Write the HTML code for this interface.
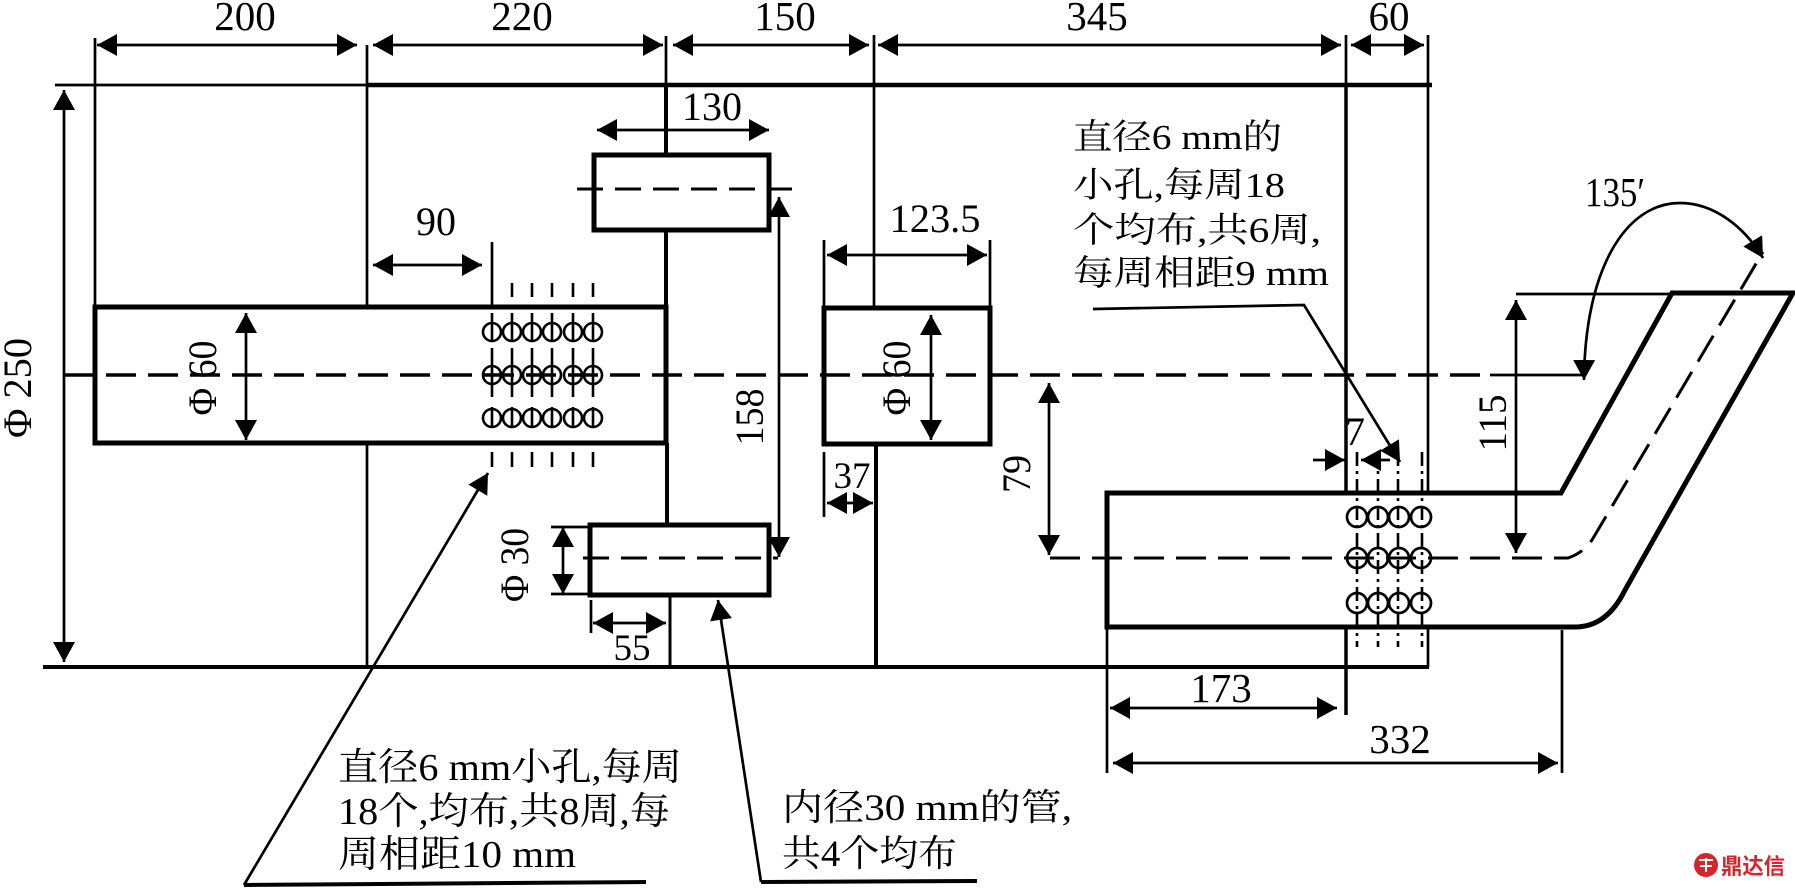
<!DOCTYPE html>
<html><head><meta charset="utf-8"><style>
html,body{margin:0;padding:0;background:#fff;}
svg{display:block;}
text{font-family:"Liberation Serif","Noto Serif CJK SC",serif;fill:#000;}
</style></head><body>
<svg width="1795" height="888" viewBox="0 0 1795 888" xmlns="http://www.w3.org/2000/svg">
<defs>
<marker id="a" viewBox="0 0 20 22" refX="20" refY="11" markerWidth="20" markerHeight="22" markerUnits="userSpaceOnUse" orient="auto-start-reverse"><path d="M0,0L20,11L0,22Z" fill="#000"/></marker>
</defs>
<rect width="1795" height="888" fill="#fff"/>

<g stroke="#000" fill="none" stroke-width="2.7">
<path d="M95,38V307"/>
<path d="M367,45V307M367,443V667"/>
<path d="M666,36V85"/>
<path d="M874,35V308"/>
<path d="M1346,35V85"/>
<path d="M1428,35V667"/>
<path d="M492,242V307"/>
<path d="M824,240V308M990,240V308"/>
<path d="M824,452V517"/>
<path d="M551,527H591M551,594H591"/>
<path d="M591,600V633"/>
<path d="M1107,627V773"/>
<path d="M1562,630V773"/>
<path d="M1516,294H1672"/>
<path d="M1490,375H1584"/>
<path d="M55,85H367"/>
</g>

<g stroke="#000" fill="none">
<path d="M367,85H1432" stroke-width="4.5"/>
<path d="M43,667H1429" stroke-width="4"/>
<path d="M666,85V155M666,230V307" stroke-width="4"/>
<path d="M667,443V525" stroke-width="4"/>
<path d="M670,595V667" stroke-width="3"/>
<path d="M876,444V667" stroke-width="4"/>
<path d="M1346,85V715" stroke-width="3.5"/>
</g>

<path d="M64,375H1490" stroke="#000" stroke-width="3.5" stroke-dasharray="30 12" fill="none"/>
<path d="M577,189H792" stroke="#000" stroke-width="3" stroke-dasharray="26 12" fill="none"/>
<path d="M583,558H778" stroke="#000" stroke-width="3" stroke-dasharray="26 12" fill="none"/>

<g stroke="#000" fill="none" stroke-width="5">
<rect x="95" y="307" width="571" height="136"/>
<rect x="594" y="155" width="175" height="75"/>
<rect x="824" y="308" width="166" height="136"/>
<rect x="590" y="525" width="179" height="70"/>
</g>

<path d="M1107,493L1561,493L1672,293L1793,293L1625,590Q1607,627 1575,627L1107,627Z" fill="#fff" stroke="#000" stroke-width="5" stroke-linejoin="miter"/>
<path d="M1050,558H1568Q1583,553 1592,540L1763,252" stroke="#000" stroke-width="3" stroke-dasharray="30 12" fill="none"/>

<g stroke="#000" fill="none" stroke-width="2.6">
<path d="M492,313V342M492,348V397M492,407V428M512,313V342M512,348V397M512,407V428M532,313V342M532,348V397M532,407V428M552,313V342M552,348V397M552,407V428M573,313V342M573,348V397M573,407V428M593,313V342M593,348V397M593,407V428"/>
<path d="M512,283V297M532,283V297M552,283V297M573,283V297M593,283V297"/>
<path d="M492,452V467M512,452V467M532,452V467M552,452V467M573,452V467M593,452V467"/>
<circle cx="492" cy="332" r="9"/><circle cx="512" cy="332" r="9"/><circle cx="532" cy="332" r="9"/><circle cx="552" cy="332" r="9"/><circle cx="573" cy="332" r="9"/><circle cx="593" cy="332" r="9"/>
<circle cx="492" cy="375" r="9"/><circle cx="512" cy="375" r="9"/><circle cx="532" cy="375" r="9"/><circle cx="552" cy="375" r="9"/><circle cx="573" cy="375" r="9"/><circle cx="593" cy="375" r="9"/>
<circle cx="492" cy="418" r="9"/><circle cx="512" cy="418" r="9"/><circle cx="532" cy="418" r="9"/><circle cx="552" cy="418" r="9"/><circle cx="573" cy="418" r="9"/><circle cx="593" cy="418" r="9"/>
</g>

<g stroke="#000" fill="none" stroke-width="2.7">
<path d="M1357,452V647M1378,452V647M1398,452V647M1422,452V647" stroke-dasharray="14 5 3 5" stroke-width="2.6"/>
<circle cx="1357" cy="517" r="10"/><circle cx="1378" cy="517" r="10"/><circle cx="1399" cy="517" r="10"/><circle cx="1421" cy="517" r="10"/>
<circle cx="1357" cy="558" r="10"/><circle cx="1378" cy="558" r="10"/><circle cx="1399" cy="558" r="10"/><circle cx="1421" cy="558" r="10"/>
<circle cx="1357" cy="603" r="10"/><circle cx="1378" cy="603" r="10"/><circle cx="1399" cy="603" r="10"/><circle cx="1421" cy="603" r="10"/>
</g>

<g stroke="#000" fill="none" stroke-width="2.7" marker-start="url(#a)" marker-end="url(#a)">
<path d="M97,45H357"/>
<path d="M373,45H663"/>
<path d="M673,45H869"/>
<path d="M878,45H1341"/>
<path d="M1351,45H1424"/>
<path d="M597,130H769"/>
<path d="M373,265H482"/>
<path d="M827,255H987"/>
<path d="M64,90V662"/>
<path d="M246,313V440"/>
<path d="M779,197V557"/>
<path d="M931,315V440"/>
<path d="M827,503H873"/>
<path d="M563,527V594"/>
<path d="M593,623H666"/>
<path d="M1049,383V555"/>
<path d="M1516,300V553"/>
<path d="M1110,708H1337"/>
<path d="M1113,763H1558"/>
<path d="M1584,380C1585,270 1625,203 1680,203C1715,203 1745,228 1763,258"/>
</g>

<g stroke="#000" fill="none" stroke-width="2.7" marker-end="url(#a)">
<path d="M1313,460H1345"/>
<path d="M1390,460H1361"/>
<path d="M244,885L488,473"/>
<path d="M761,882L718,600"/>
<path d="M1093,309L1304,305L1400,462"/>
</g>
<g stroke="#000" fill="none" stroke-width="4">
<path d="M244,885L646,882"/>
<path d="M761,882L977,881"/>
</g>

<g font-size="41" text-anchor="middle">
<text x="245" y="30">200</text>
<text x="522" y="30">220</text>
<text x="785" y="30">150</text>
<text x="1097" y="30">345</text>
<text x="1389" y="30">60</text>
<text x="712" y="120" font-size="40">130</text>
<text x="436" y="235" font-size="40">90</text>
<text x="935" y="232" font-size="40" textLength="91" lengthAdjust="spacingAndGlyphs">123.5</text>
<text x="852" y="488" font-size="37">37</text>
<text x="632" y="660" font-size="37">55</text>
<text x="1221" y="702">173</text>
<text x="1400" y="753">332</text>
<text x="1355" y="445" font-size="40">7</text>
<text x="1615" y="206" textLength="60" lengthAdjust="spacingAndGlyphs">135′</text>
</g>

<g font-size="40" text-anchor="middle">
<text transform="translate(31,388) rotate(-90)" textLength="100" lengthAdjust="spacingAndGlyphs">Φ 250</text>
<text transform="translate(216,378) rotate(-90)" textLength="75" lengthAdjust="spacingAndGlyphs">Φ 60</text>
<text transform="translate(910,378) rotate(-90)" textLength="75" lengthAdjust="spacingAndGlyphs">Φ 60</text>
<text transform="translate(763,417) rotate(-90)" textLength="57" lengthAdjust="spacingAndGlyphs">158</text>
<text transform="translate(528,565) rotate(-90)" textLength="74" lengthAdjust="spacingAndGlyphs">Φ 30</text>
<text transform="translate(1030,474) rotate(-90)" textLength="38" lengthAdjust="spacingAndGlyphs">79</text>
<text transform="translate(1506,423) rotate(-90)" textLength="57" lengthAdjust="spacingAndGlyphs">115</text>
</g>

<g font-size="38">
<text x="338" y="780" textLength="344" lengthAdjust="spacingAndGlyphs">直径6 mm小孔,每周</text>
<text x="338" y="824" textLength="332" lengthAdjust="spacingAndGlyphs">18个,均布,共8周,每</text>
<text x="338" y="867" textLength="238" lengthAdjust="spacingAndGlyphs">周相距10 mm</text>
</g>
<g font-size="37">
<text x="782" y="820" textLength="290" lengthAdjust="spacingAndGlyphs">内径30 mm的管,</text>
<text x="782" y="866" textLength="175" lengthAdjust="spacingAndGlyphs">共4个均布</text>
</g>
<g font-size="35">
<text x="1073" y="149" textLength="209" lengthAdjust="spacingAndGlyphs">直径6 mm的</text>
<text x="1073" y="197" textLength="212" lengthAdjust="spacingAndGlyphs">小孔,每周18</text>
<text x="1073" y="242" textLength="248" lengthAdjust="spacingAndGlyphs">个均布,共6周,</text>
<text x="1073" y="285" textLength="256" lengthAdjust="spacingAndGlyphs">每周相距9 mm</text>
</g>

<circle cx="1706" cy="865" r="12" fill="#d4262c"/>
<path d="M1699,860h14M1700,866h12M1706,858v14" stroke="#fff" stroke-width="2" fill="none"/>
<text x="1721" y="874" font-size="22" font-weight="bold" fill="#d4262c" style="font-family:'Noto Sans CJK SC',sans-serif;fill:#d4262c" textLength="64" lengthAdjust="spacingAndGlyphs">鼎达信</text>
</svg>
</body></html>
